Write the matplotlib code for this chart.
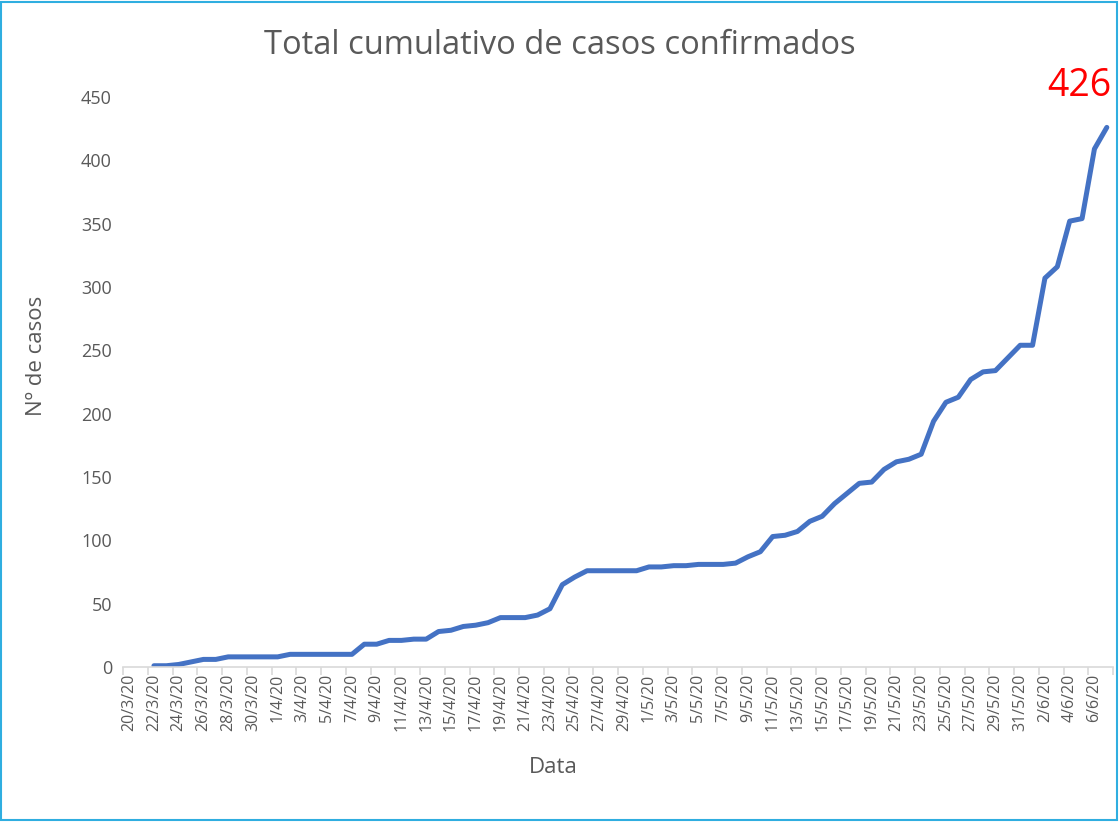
import matplotlib
matplotlib.use("Agg")
import matplotlib.pyplot as plt
from matplotlib.patches import Rectangle
import pandas as pd
import numpy as np

plt.rcParams['font.family'] = ['Open Sans', 'DejaVu Sans']

# Categories: every day from 20/3/20 to 7/6/20
dates = pd.date_range("2020-03-20", "2020-06-07", freq="D")
date_labels = [f"{d.day}/{d.month}/20" for d in dates]

# Cumulative confirmed cases, from 22/3/20 to 7/6/20
first_case_date = "2020-03-22"
cases = [1, 1, 2, 4, 6, 6, 8, 8, 8, 8, 8, 10, 10, 10, 10, 10, 10,
         18, 18, 21, 21, 22, 22, 28, 29, 32, 33, 35, 39, 39, 39, 41, 46,
         65, 71, 76, 76, 76, 76, 76, 79, 79, 80, 80, 81, 81, 81, 82, 87, 91,
         103, 104, 107, 115, 119, 129, 137, 145, 146, 156, 162, 164, 168,
         194, 209, 213, 227, 233, 234, 244, 254, 254, 307, 316, 352, 354, 409, 426]

title = "Total cumulativo de casos confirmados"
xlabel = "Data"
ylabel = "Nº de casos"
last_label = "426"

text_color = "#595959"

fig = plt.figure(figsize=(11.19, 8.22), dpi=100)
ax = fig.add_axes([123/1119, 1 - 667/822, (1113-123)/1119, (667-97)/822])

start_idx = list(dates).index(pd.Timestamp(first_case_date))
x = np.arange(start_idx, start_idx + len(cases))
ax.plot(x, cases, color="#4472C4", linewidth=3.6, solid_capstyle="round", solid_joinstyle="round")

ax.set_xlim(-0.5, len(dates) - 0.5)
ax.set_ylim(0, 450)
ax.set_yticks(np.arange(0, 451, 50))
ax.tick_params(axis="y", length=0, labelsize=13, labelcolor=text_color, pad=8)

idx = np.arange(0, len(dates), 2)
ax.set_xticks(idx)
ax.set_xticklabels([date_labels[i] for i in idx], rotation=90, fontsize=11.5, color=text_color)
ax.tick_params(axis="x", which="major", length=0, pad=5)
ax.set_xticks(np.arange(-0.5, len(dates), 2), minor=True)
ax.tick_params(axis="x", which="minor", length=6, color="#D9D9D9", width=1.2)

for s in ["top", "right", "left"]:
    ax.spines[s].set_visible(False)
ax.spines["bottom"].set_color("#D9D9D9")
ax.spines["bottom"].set_linewidth(1.2)

ax.set_xlabel(xlabel, fontsize=16, color=text_color)
ax.xaxis.set_label_coords((553-123)/990, (667-767)/570)
ax.set_ylabel(ylabel, fontsize=16, color=text_color)
ax.yaxis.set_label_coords((37-123)/990, (667-356)/570)
ax.xaxis.label.set_va("center")
ax.yaxis.label.set_va("center")

fig.text(560/1119, 1 - 45/822, title, ha="center", va="center", fontsize=23.5, color=text_color)
ax.annotate(last_label, xy=(x[-1], cases[-1]), xytext=(-20, 30), textcoords="offset points",
            ha="center", va="center", fontsize=27, color="red")

fig.add_artist(Rectangle((0.001, 0.002), 0.997, 0.995, transform=fig.transFigure,
                         fill=False, edgecolor="#2FAEE0", linewidth=1.5))

fig.savefig("out.png", dpi=100)
